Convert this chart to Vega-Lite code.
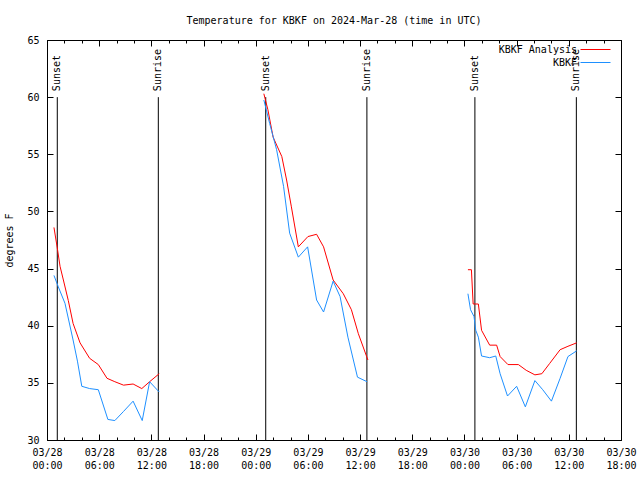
{
  "$schema": "https://vega.github.io/schema/vega-lite/v6.json",
  "width": 574,
  "height": 400,
  "autosize": {"type": "none"},
  "padding": {"left": 47, "top": 40, "right": 19, "bottom": 40},
  "title": {"text": "Temperature for KBKF on 2024-Mar-28 (time in UTC)", "font": "DejaVu Sans Mono", "fontSize": 10, "fontWeight": "normal", "color": "black", "anchor": "middle", "offset": 9},
  "config": {
    "view": {"stroke": "black", "strokeWidth": 1},
    "font": "DejaVu Sans Mono",
    "axis": {"domain": false, "grid": false, "labelFont": "DejaVu Sans Mono", "labelFontSize": 10, "labelColor": "black", "tickColor": "black", "tickWidth": 1, "titleFont": "DejaVu Sans Mono", "titleFontSize": 10, "titleFontWeight": "normal", "titleColor": "black"}
  },
  "datasets": {
    "temps": [
      {"series": "KBKF Analysis", "seg": 1, "time": "2024-03-28T00:48:00Z", "temp": 48.6},
      {"series": "KBKF Analysis", "seg": 1, "time": "2024-03-28T01:11:00Z", "temp": 46.8},
      {"series": "KBKF Analysis", "seg": 1, "time": "2024-03-28T01:30:00Z", "temp": 45.2},
      {"series": "KBKF Analysis", "seg": 1, "time": "2024-03-28T01:53:00Z", "temp": 44.0},
      {"series": "KBKF Analysis", "seg": 1, "time": "2024-03-28T02:27:00Z", "temp": 42.2},
      {"series": "KBKF Analysis", "seg": 1, "time": "2024-03-28T03:00:00Z", "temp": 40.2},
      {"series": "KBKF Analysis", "seg": 1, "time": "2024-03-28T03:48:00Z", "temp": 38.5},
      {"series": "KBKF Analysis", "seg": 1, "time": "2024-03-28T04:54:00Z", "temp": 37.15},
      {"series": "KBKF Analysis", "seg": 1, "time": "2024-03-28T05:54:00Z", "temp": 36.6},
      {"series": "KBKF Analysis", "seg": 1, "time": "2024-03-28T06:54:00Z", "temp": 35.4},
      {"series": "KBKF Analysis", "seg": 1, "time": "2024-03-28T07:48:00Z", "temp": 35.1},
      {"series": "KBKF Analysis", "seg": 1, "time": "2024-03-28T08:48:00Z", "temp": 34.8},
      {"series": "KBKF Analysis", "seg": 1, "time": "2024-03-28T09:54:00Z", "temp": 34.9},
      {"series": "KBKF Analysis", "seg": 1, "time": "2024-03-28T10:54:00Z", "temp": 34.5},
      {"series": "KBKF Analysis", "seg": 1, "time": "2024-03-28T11:48:00Z", "temp": 35.1},
      {"series": "KBKF Analysis", "seg": 1, "time": "2024-03-28T12:54:00Z", "temp": 35.8},
      {"series": "KBKF Analysis", "seg": 2, "time": "2024-03-29T00:56:00Z", "temp": 60.3},
      {"series": "KBKF Analysis", "seg": 2, "time": "2024-03-29T01:24:00Z", "temp": 58.9},
      {"series": "KBKF Analysis", "seg": 2, "time": "2024-03-29T02:00:00Z", "temp": 56.5},
      {"series": "KBKF Analysis", "seg": 2, "time": "2024-03-29T03:00:00Z", "temp": 54.8},
      {"series": "KBKF Analysis", "seg": 2, "time": "2024-03-29T03:33:00Z", "temp": 52.75},
      {"series": "KBKF Analysis", "seg": 2, "time": "2024-03-29T04:06:00Z", "temp": 50.4},
      {"series": "KBKF Analysis", "seg": 2, "time": "2024-03-29T04:54:00Z", "temp": 46.9},
      {"series": "KBKF Analysis", "seg": 2, "time": "2024-03-29T06:00:00Z", "temp": 47.8},
      {"series": "KBKF Analysis", "seg": 2, "time": "2024-03-29T07:00:00Z", "temp": 48.0},
      {"series": "KBKF Analysis", "seg": 2, "time": "2024-03-29T07:48:00Z", "temp": 46.9},
      {"series": "KBKF Analysis", "seg": 2, "time": "2024-03-29T08:54:00Z", "temp": 44.0},
      {"series": "KBKF Analysis", "seg": 2, "time": "2024-03-29T10:04:00Z", "temp": 42.8},
      {"series": "KBKF Analysis", "seg": 2, "time": "2024-03-29T11:00:00Z", "temp": 41.4},
      {"series": "KBKF Analysis", "seg": 2, "time": "2024-03-29T11:48:00Z", "temp": 39.3},
      {"series": "KBKF Analysis", "seg": 2, "time": "2024-03-29T12:54:00Z", "temp": 37.0},
      {"series": "KBKF Analysis", "seg": 3, "time": "2024-03-30T00:24:00Z", "temp": 44.9},
      {"series": "KBKF Analysis", "seg": 3, "time": "2024-03-30T00:48:00Z", "temp": 44.9},
      {"series": "KBKF Analysis", "seg": 3, "time": "2024-03-30T01:00:00Z", "temp": 41.9},
      {"series": "KBKF Analysis", "seg": 3, "time": "2024-03-30T01:36:00Z", "temp": 41.9},
      {"series": "KBKF Analysis", "seg": 3, "time": "2024-03-30T01:58:00Z", "temp": 39.6},
      {"series": "KBKF Analysis", "seg": 3, "time": "2024-03-30T02:54:00Z", "temp": 38.3},
      {"series": "KBKF Analysis", "seg": 3, "time": "2024-03-30T03:42:00Z", "temp": 38.3},
      {"series": "KBKF Analysis", "seg": 3, "time": "2024-03-30T04:06:00Z", "temp": 37.3},
      {"series": "KBKF Analysis", "seg": 3, "time": "2024-03-30T05:00:00Z", "temp": 36.6},
      {"series": "KBKF Analysis", "seg": 3, "time": "2024-03-30T06:12:00Z", "temp": 36.6},
      {"series": "KBKF Analysis", "seg": 3, "time": "2024-03-30T07:06:00Z", "temp": 36.1},
      {"series": "KBKF Analysis", "seg": 3, "time": "2024-03-30T08:06:00Z", "temp": 35.7},
      {"series": "KBKF Analysis", "seg": 3, "time": "2024-03-30T08:54:00Z", "temp": 35.8},
      {"series": "KBKF Analysis", "seg": 3, "time": "2024-03-30T09:48:00Z", "temp": 36.7},
      {"series": "KBKF Analysis", "seg": 3, "time": "2024-03-30T11:00:00Z", "temp": 37.9},
      {"series": "KBKF Analysis", "seg": 3, "time": "2024-03-30T11:54:00Z", "temp": 38.2},
      {"series": "KBKF Analysis", "seg": 3, "time": "2024-03-30T12:54:00Z", "temp": 38.5},
      {"series": "KBKF", "seg": 1, "time": "2024-03-28T00:48:00Z", "temp": 44.4},
      {"series": "KBKF", "seg": 1, "time": "2024-03-28T01:18:00Z", "temp": 43.4},
      {"series": "KBKF", "seg": 1, "time": "2024-03-28T02:04:00Z", "temp": 41.96},
      {"series": "KBKF", "seg": 1, "time": "2024-03-28T03:00:00Z", "temp": 38.75},
      {"series": "KBKF", "seg": 1, "time": "2024-03-28T03:30:00Z", "temp": 36.9},
      {"series": "KBKF", "seg": 1, "time": "2024-03-28T04:00:00Z", "temp": 34.7},
      {"series": "KBKF", "seg": 1, "time": "2024-03-28T04:54:00Z", "temp": 34.5},
      {"series": "KBKF", "seg": 1, "time": "2024-03-28T05:54:00Z", "temp": 34.4},
      {"series": "KBKF", "seg": 1, "time": "2024-03-28T07:00:00Z", "temp": 31.8},
      {"series": "KBKF", "seg": 1, "time": "2024-03-28T07:48:00Z", "temp": 31.7},
      {"series": "KBKF", "seg": 1, "time": "2024-03-28T08:48:00Z", "temp": 32.5},
      {"series": "KBKF", "seg": 1, "time": "2024-03-28T09:54:00Z", "temp": 33.4},
      {"series": "KBKF", "seg": 1, "time": "2024-03-28T10:57:00Z", "temp": 31.7},
      {"series": "KBKF", "seg": 1, "time": "2024-03-28T11:48:00Z", "temp": 35.1},
      {"series": "KBKF", "seg": 1, "time": "2024-03-28T12:54:00Z", "temp": 34.2},
      {"series": "KBKF", "seg": 2, "time": "2024-03-29T00:56:00Z", "temp": 59.75},
      {"series": "KBKF", "seg": 2, "time": "2024-03-29T01:36:00Z", "temp": 57.7},
      {"series": "KBKF", "seg": 2, "time": "2024-03-29T02:24:00Z", "temp": 55.4},
      {"series": "KBKF", "seg": 2, "time": "2024-03-29T03:12:00Z", "temp": 52.2},
      {"series": "KBKF", "seg": 2, "time": "2024-03-29T03:54:00Z", "temp": 48.1},
      {"series": "KBKF", "seg": 2, "time": "2024-03-29T04:54:00Z", "temp": 46.0},
      {"series": "KBKF", "seg": 2, "time": "2024-03-29T05:58:00Z", "temp": 46.9},
      {"series": "KBKF", "seg": 2, "time": "2024-03-29T07:00:00Z", "temp": 42.25},
      {"series": "KBKF", "seg": 2, "time": "2024-03-29T07:48:00Z", "temp": 41.2},
      {"series": "KBKF", "seg": 2, "time": "2024-03-29T08:54:00Z", "temp": 43.9},
      {"series": "KBKF", "seg": 2, "time": "2024-03-29T09:42:00Z", "temp": 42.55},
      {"series": "KBKF", "seg": 2, "time": "2024-03-29T10:36:00Z", "temp": 39.0},
      {"series": "KBKF", "seg": 2, "time": "2024-03-29T11:42:00Z", "temp": 35.5},
      {"series": "KBKF", "seg": 2, "time": "2024-03-29T12:48:00Z", "temp": 35.1},
      {"series": "KBKF", "seg": 3, "time": "2024-03-30T00:24:00Z", "temp": 42.8},
      {"series": "KBKF", "seg": 3, "time": "2024-03-30T00:42:00Z", "temp": 41.4},
      {"series": "KBKF", "seg": 3, "time": "2024-03-30T01:06:00Z", "temp": 40.8},
      {"series": "KBKF", "seg": 3, "time": "2024-03-30T01:18:00Z", "temp": 39.6},
      {"series": "KBKF", "seg": 3, "time": "2024-03-30T01:36:00Z", "temp": 39.0},
      {"series": "KBKF", "seg": 3, "time": "2024-03-30T01:58:00Z", "temp": 37.35},
      {"series": "KBKF", "seg": 3, "time": "2024-03-30T02:54:00Z", "temp": 37.2},
      {"series": "KBKF", "seg": 3, "time": "2024-03-30T03:36:00Z", "temp": 37.35},
      {"series": "KBKF", "seg": 3, "time": "2024-03-30T04:06:00Z", "temp": 35.8},
      {"series": "KBKF", "seg": 3, "time": "2024-03-30T04:57:00Z", "temp": 33.85},
      {"series": "KBKF", "seg": 3, "time": "2024-03-30T06:00:00Z", "temp": 34.7},
      {"series": "KBKF", "seg": 3, "time": "2024-03-30T07:00:00Z", "temp": 32.9},
      {"series": "KBKF", "seg": 3, "time": "2024-03-30T08:06:00Z", "temp": 35.2},
      {"series": "KBKF", "seg": 3, "time": "2024-03-30T09:00:00Z", "temp": 34.4},
      {"series": "KBKF", "seg": 3, "time": "2024-03-30T10:00:00Z", "temp": 33.4},
      {"series": "KBKF", "seg": 3, "time": "2024-03-30T11:00:00Z", "temp": 35.4},
      {"series": "KBKF", "seg": 3, "time": "2024-03-30T11:54:00Z", "temp": 37.3},
      {"series": "KBKF", "seg": 3, "time": "2024-03-30T12:54:00Z", "temp": 37.8}
    ],
    "events": [
      {"event": "Sunset", "time": "2024-03-28T01:11:00Z"},
      {"event": "Sunrise", "time": "2024-03-28T12:48:00Z"},
      {"event": "Sunset", "time": "2024-03-29T01:09:00Z"},
      {"event": "Sunrise", "time": "2024-03-29T12:47:00Z"},
      {"event": "Sunset", "time": "2024-03-30T01:12:00Z"},
      {"event": "Sunrise", "time": "2024-03-30T12:52:00Z"}
    ]
  },
  "layer": [
    {
      "data": {"name": "events"},
      "mark": {"type": "rule", "color": "black", "strokeWidth": 1},
      "encoding": {
        "x": {"field": "time", "type": "temporal", "axis": {"orient": "top", "values": [1711584000000, 1711605600000, 1711627200000, 1711648800000, 1711670400000, 1711692000000, 1711713600000, 1711735200000, 1711756800000, 1711778400000, 1711800000000, 1711821600000], "tickSize": -6, "labels": false, "title": null}},
        "y": {"datum": 30, "type": "quantitative", "axis": {"orient": "right", "values": [30, 35, 40, 45, 50, 55, 60, 65], "tickSize": -6, "labels": false, "title": null}},
        "y2": {"datum": 60}
      }
    },
    {
      "data": {"name": "events"},
      "mark": {"type": "text", "angle": 270, "align": "left", "baseline": "middle", "dx": 6, "font": "DejaVu Sans Mono", "fontSize": 10, "color": "black"},
      "encoding": {
        "x": {"field": "time", "type": "temporal", "axis": {"orient": "bottom", "values": [1711584000000, 1711591200000, 1711598400000, 1711605600000, 1711612800000, 1711620000000, 1711627200000, 1711634400000, 1711641600000, 1711648800000, 1711656000000, 1711663200000, 1711670400000, 1711677600000, 1711684800000, 1711692000000, 1711699200000, 1711706400000, 1711713600000, 1711720800000, 1711728000000, 1711735200000, 1711742400000, 1711749600000, 1711756800000, 1711764000000, 1711771200000, 1711778400000, 1711785600000, 1711792800000, 1711800000000, 1711807200000, 1711814400000, 1711821600000], "tickSize": -3, "labels": false, "title": null}},
        "y": {"datum": 60, "type": "quantitative", "axis": null},
        "text": {"field": "event"}
      }
    },
    {
      "data": {"name": "events"},
      "mark": {"type": "rule", "opacity": 0},
      "encoding": {
        "x": {"field": "time", "type": "temporal", "axis": {"orient": "top", "values": [1711584000000, 1711591200000, 1711598400000, 1711605600000, 1711612800000, 1711620000000, 1711627200000, 1711634400000, 1711641600000, 1711648800000, 1711656000000, 1711663200000, 1711670400000, 1711677600000, 1711684800000, 1711692000000, 1711699200000, 1711706400000, 1711713600000, 1711720800000, 1711728000000, 1711735200000, 1711742400000, 1711749600000, 1711756800000, 1711764000000, 1711771200000, 1711778400000, 1711785600000, 1711792800000, 1711800000000, 1711807200000, 1711814400000, 1711821600000], "tickSize": -3, "labels": false, "title": null}},
        "y": {"datum": 30, "type": "quantitative", "axis": null},
        "y2": {"datum": 60}
      }
    },
    {
      "data": {"name": "temps"},
      "mark": {"type": "line", "strokeWidth": 1},
      "encoding": {
        "x": {"field": "time", "type": "temporal",
          "scale": {"type": "utc", "domain": [1711584000000, 1711821600000]},
          "axis": {"orient": "bottom", "values": [1711584000000, 1711605600000, 1711627200000, 1711648800000, 1711670400000, 1711692000000, 1711713600000, 1711735200000, 1711756800000, 1711778400000, 1711800000000, 1711821600000], "tickSize": -6, "labelExpr": "[utcFormat(datum.value, '%m/%d'), utcFormat(datum.value, '%H:%M')]", "labelPadding": 13, "labelLineHeight": 13, "labelFlush": false, "labelOverlap": false, "title": null}},
        "y": {"field": "temp", "type": "quantitative", "scale": {"domain": [30, 65], "nice": false, "zero": false},
          "axis": {"orient": "left", "values": [30, 35, 40, 45, 50, 55, 60, 65], "tickSize": -6, "labelPadding": 14, "title": "degrees F", "titlePadding": 12}},
        "color": {"field": "series", "type": "nominal",
          "scale": {"domain": ["KBKF Analysis", "KBKF"], "range": ["#ff0000", "#1e90ff"]},
          "legend": {"orient": "none", "legendX": 543, "legendY": 4, "title": null, "padding": 0, "symbolType": "M-3,0H3", "symbolSize": 100, "symbolStrokeWidth": 1, "labelAlign": "right", "labelOffset": -24, "labelFont": "DejaVu Sans Mono", "labelFontSize": 10, "labelColor": "black", "rowPadding": 2}},
        "detail": {"field": "seg"}
      }
    }
  ],
  "resolve": {"axis": {"x": "independent", "y": "independent"}}
}
